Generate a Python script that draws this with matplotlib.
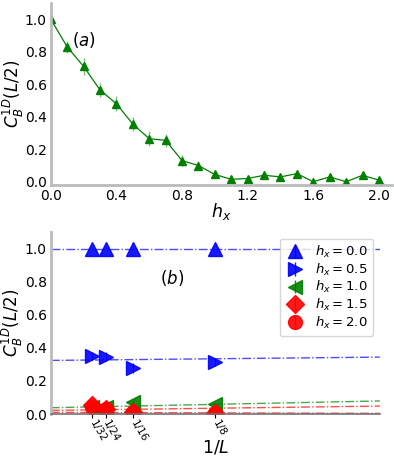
import matplotlib
matplotlib.use('Agg')
import matplotlib.pyplot as plt

# (a) C_B^{1D}(L/2) versus h_x
hx = [0.0, 0.1, 0.2, 0.3, 0.4, 0.5, 0.6, 0.7, 0.8, 0.9, 1.0,
      1.1, 1.2, 1.3, 1.4, 1.5, 1.6, 1.7, 1.8, 1.9, 2.0]
cb = [1.0, 0.83, 0.71, 0.565, 0.48, 0.355, 0.265, 0.255, 0.13, 0.10, 0.045,
      0.015, 0.02, 0.04, 0.03, 0.05, 0.0, 0.03, 0.0, 0.04, 0.01]
cb_err = [0.01, 0.035, 0.05, 0.045, 0.045, 0.045, 0.045, 0.04, 0.035, 0.025, 0.012,
          0.01, 0.012, 0.01, 0.012, 0.012, 0.01, 0.01, 0.008, 0.01, 0.01]

# (b) finite size scaling in 1/L
invL = [1/32, 1/24, 1/16, 1/8]
invL_labels = ['1/32', '1/24', '1/16', '1/8']
hx_b = ['0.0', '0.5', '1.0', '1.5', '2.0']
cb_L = {
    '0.0': [1.0, 1.0, 1.0, 1.0],
    '0.5': [0.35, 0.347, 0.277, 0.315],
    '1.0': [0.04, 0.045, 0.072, 0.058],
    '1.5': [0.055, 0.03, 0.01, 0.005],
    '2.0': [0.04, 0.03, 0.01, 0.005],
}
cb_L_err = {
    '0.0': [0.0, 0.0, 0.0, 0.0],
    '0.5': [0.025, 0.025, 0.03, 0.025],
    '1.0': [0.01, 0.01, 0.01, 0.01],
    '1.5': [0.01, 0.01, 0.01, 0.01],
    '2.0': [0.01, 0.01, 0.01, 0.01],
}
# fitted lines: value at 1/L = 0 and at 1/L = 0.25
fit_ends = {
    '0.0': (1.0, 1.0),
    '0.5': (0.324, 0.344),
    '1.0': (0.038, 0.079),
    '1.5': (0.022, 0.048),
    '2.0': (0.010, 0.004),
}
fit_x = [0.0, 0.25]
colors = {'0.0': 'blue', '0.5': 'blue', '1.0': 'green', '1.5': 'red', '2.0': 'red'}
markers = {'0.0': '^', '0.5': '>', '1.0': '<', '1.5': 'D', '2.0': 'o'}
msizes = {'0.0': 10, '0.5': 10, '1.0': 10, '1.5': 9, '2.0': 10}

fig = plt.figure(figsize=(3.94, 4.63), dpi=100)
ax1 = fig.add_axes([0.129, 0.6004, 0.866, 0.393])
ax2 = fig.add_axes([0.129, 0.1058, 0.835, 0.393])

def style(ax):
    for s in ['top', 'right']:
        ax.spines[s].set_visible(False)
    for s in ['left', 'bottom']:
        ax.spines[s].set_color('#bbbbbb')
        ax.spines[s].set_linewidth(2)
    ax.tick_params(axis='both', labelsize=10, length=0, pad=3)
    ax.set_yticks([0.0, 0.2, 0.4, 0.6, 0.8, 1.0])

# panel (a)
style(ax1)
ax1.errorbar(hx, cb, yerr=cb_err, color='green', marker='^', ms=6, lw=0.9,
             elinewidth=1, ecolor=(0, 0.5, 0, 0.5))
ax1.set_xlim(0, 2.08)
ax1.set_ylim(-0.02, 1.1)
ax1.set_xticks([0.0, 0.4, 0.8, 1.2, 1.6, 2.0])
ax1.set_xlabel('$h_x$', fontsize=12.5)
ax1.xaxis.set_label_coords(0.5, -0.09)
ax1.set_ylabel('$C_B^{1D}(L/2)$', fontsize=12)
ax1.yaxis.set_label_coords(-0.074, 0.5)
ax1.text(0.2, 0.87, '$(a)$', fontsize=12, ha='center', va='center')

# panel (b)
style(ax2)
ax2.spines['bottom'].set_color('0.45')
ax2.spines['bottom'].set_linewidth(1.2)
for h in hx_b:
    c = colors[h]
    ax2.plot(fit_x, fit_ends[h], color=c, ls='-.', lw=1, alpha=0.7)
for h in hx_b:
    c = colors[h]
    ax2.errorbar(invL, cb_L[h], yerr=cb_L_err[h], color=c, ls='none',
                 marker=markers[h], ms=msizes[h], elinewidth=1,
                 ecolor=c, alpha=0.9, label='$h_x = %s$' % h)
ax2.set_xlim(0, 0.25)
ax2.set_ylim(0, 1.1)
ax2.set_xticks(invL)
ax2.set_xticklabels(invL_labels, rotation=-60, ha='left', va='center',
                    rotation_mode='anchor', fontsize=7.5)
ax2.tick_params(axis='x', length=3, width=0.8, color='black', pad=2)
ax2.set_xlabel('$1/L$', fontsize=12.5)
ax2.xaxis.set_label_coords(0.5, -0.135)
ax2.set_ylabel('$C_B^{1D}(L/2)$', fontsize=12)
ax2.yaxis.set_label_coords(-0.077, 0.5)
ax2.text(0.092, 0.82, '$(b)$', fontsize=12, ha='center', va='center')
ax2.legend(loc='upper right', fontsize=9.5, handlelength=1.5,
           borderpad=0.4, labelspacing=0.12)

fig.savefig('out.png', dpi=100)
